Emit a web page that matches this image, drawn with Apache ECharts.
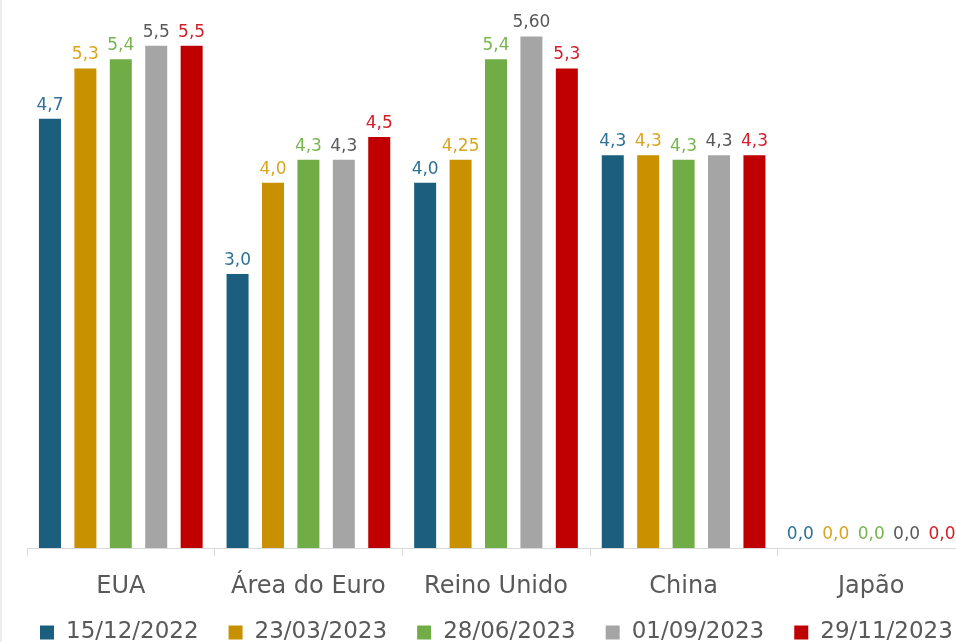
<!DOCTYPE html>
<html><head><meta charset="utf-8">
<script src="https://cdn.jsdelivr.net/npm/echarts@6/dist/echarts.min.js"></script>
<style>html,body{margin:0;padding:0;background:#fff}#c{width:956px;height:642px}</style>
</head><body><div id="c"></div>
<script>
const categories = ['EUA', 'Área do Euro', 'Reino Unido', 'China', 'Japão'];
const seriesNames = ['15/12/2022', '23/03/2023', '28/06/2023', '01/09/2023', '29/11/2023'];
const s1 = [4.7, 3.0, 4.0, 4.3, 0.0];
const s2 = [5.25, 4.0, 4.25, 4.3, 0.0];
const s3 = [5.35, 4.25, 5.35, 4.25, 0.0];
const s4 = [5.5, 4.25, 5.6, 4.3, 0.0];
const s5 = [5.5, 4.5, 5.25, 4.3, 0.0];
const l1 = ['4,7', '3,0', '4,0', '4,3', '0,0'];
const l2 = ['5,3', '4,0', '4,25', '4,3', '0,0'];
const l3 = ['5,4', '4,3', '5,4', '4,3', '0,0'];
const l4 = ['5,5', '4,3', '5,60', '4,3', '0,0'];
const l5 = ['5,5', '4,5', '5,3', '4,3', '0,0'];
const values = [s1, s2, s3, s4, s5];
const labels = [l1, l2, l3, l4, l5];
const barColors = ['#1b5e7e', '#c99000', '#70ad47', '#a5a5a5', '#c00000'];
const labelColors = ['#2f7196', '#d9a520', '#78b54e', '#595959', '#d0202a'];
const font = '"DejaVu Sans", "Open Sans", sans-serif';

const chart = echarts.init(document.getElementById('c'));
chart.setOption({
  animation: false,
  grid: { left: 27, width: 938, top: 0, height: 548, containLabel: false, outerBoundsMode: 'none' },
  xAxis: {
    type: 'category', data: categories,
    axisLine: { lineStyle: { color: '#d9d9d9', width: 1 } },
    axisTick: { show: true, length: 8, interval: 0, lineStyle: { color: '#d9d9d9' } },
    axisLabel: { color: '#595959', fontSize: 24, fontFamily: font, margin: 27, interval: 0, hideOverlap: false }
  },
  yAxis: { type: 'value', min: 0, max: 6, show: false, splitLine: { show: false } },
  legend: {
    data: seriesNames, left: 40, top: 621, padding: 0, itemWidth: 14, itemHeight: 14, itemGap: 30,
    icon: 'rect',
    textStyle: { color: '#595959', fontSize: 23, fontFamily: font, padding: [0, 0, 0, 7] }
  },
  graphic: [{ type: 'line', shape: { x1: 1, y1: 0, x2: 1, y2: 642 }, style: { stroke: '#d9d9d9', lineWidth: 1 } }],
  series: values.map((v, i) => ({
    name: seriesNames[i], type: 'bar', data: v, barWidth: 22, barGap: '61%',
    itemStyle: { color: barColors[i] },
    label: {
      show: true, position: 'top', distance: 5, color: labelColors[i], fontSize: 17, fontFamily: font,
      formatter: p => labels[i][p.dataIndex]
    }
  }))
});
</script></body></html>
